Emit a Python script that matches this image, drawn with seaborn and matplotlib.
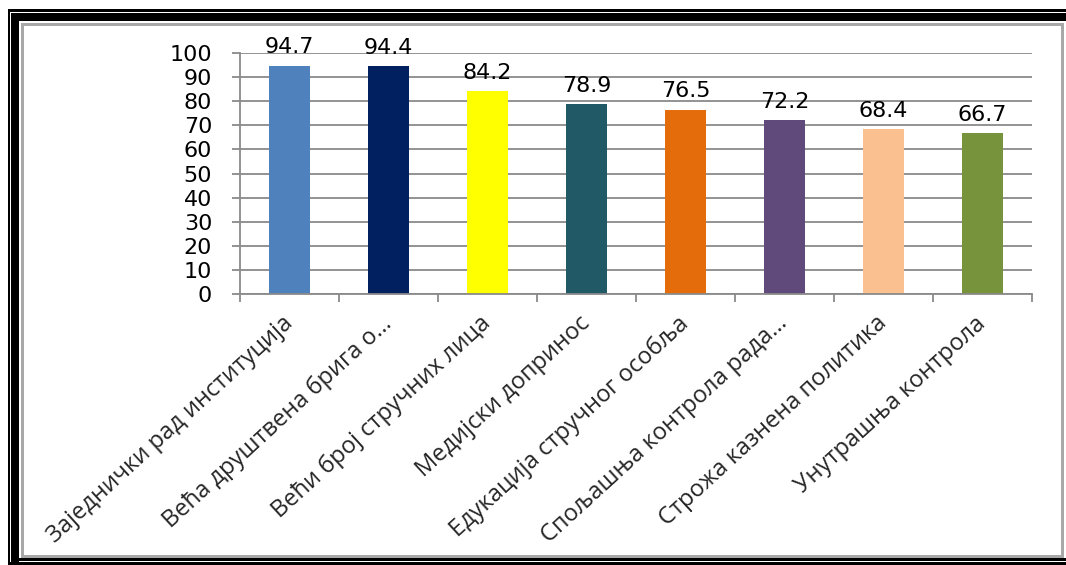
import matplotlib
matplotlib.use("Agg")
import matplotlib.pyplot as plt
import seaborn as sns
import pandas as pd
from matplotlib.patches import Rectangle
from matplotlib.ticker import FixedLocator

categories = [
    "Заједнички рад институција",
    "Већа друштвена брига о…",
    "Већи број стручних лица",
    "Медијски допринос",
    "Едукација стручног особља",
    "Спољашња контрола рада…",
    "Строжа казнена политика",
    "Унутрашња контрола",
]
values = [94.7, 94.4, 84.2, 78.9, 76.5, 72.2, 68.4, 66.7]
colors = ["#4F81BD", "#002060", "#FFFF00", "#215967", "#E46C0A", "#604A7B", "#FAC090", "#77933C"]
y_ticks = [0, 10, 20, 30, 40, 50, 60, 70, 80, 90, 100]

sns.set_style("white")
plt.rcParams["font.family"] = ["DejaVu Sans"]

W, H = 1066, 565
fig = plt.figure(figsize=(W / 100, H / 100), dpi=100)
fig.patch.set_facecolor("white")

def band(x0, y0, x1, y1, color):
    fig.add_artist(Rectangle((x0 / W, 1 - y1 / H), (x1 - x0) / W, (y1 - y0) / H,
                             transform=fig.transFigure, facecolor=color,
                             edgecolor="none", zorder=-5))

# outer decorative frame
band(7.5, 9.5, W, 11.5, "black")      # thin top
band(7.5, 9.5, 9.5, H, "black")       # thin left
band(11, 13, W, 21, "black")          # thick top
band(11, 13, 19, H, "black")          # thick left
band(11, 558, W, 560.5, "black")      # bottom inner black
band(7.5, 562, W, H, "black")         # bottom outer black
band(21, 23, 1063.5, 26, "#a8a8a8")   # gray top
band(21, 23, 24, 558, "#a8a8a8")      # gray left
band(21, 555, 1063.5, 558, "#a8a8a8") # gray bottom
band(1060.5, 23, 1063.5, 558, "#a8a8a8")  # gray right

ax = fig.add_axes([240 / W, 1 - 294 / H, (1032 - 240) / W, (294 - 53) / H])
df = pd.DataFrame({"cat": categories, "val": values})
sns.barplot(data=df, x="cat", y="val", hue="cat", palette=colors, legend=False,
            width=0.41, ax=ax, saturation=1, edgecolor="none")

ax.set_xlim(-0.5, len(categories) - 0.5)
ax.set_ylim(0, 100)
ax.set_yticks(y_ticks)
ax.set_xlabel("")
ax.set_ylabel("")

gc = "#8a8a8a"
ax.yaxis.grid(True, color=gc, linewidth=1.3)
ax.set_axisbelow(True)
for s in ["top", "right"]:
    ax.spines[s].set_visible(False)
for s in ["left", "bottom"]:
    ax.spines[s].set_color(gc)
    ax.spines[s].set_linewidth(1.3)

ax.tick_params(axis="y", length=6, width=1.3, color=gc, pad=14, labelsize=16, labelcolor="black", direction="out", left=True)
ax.xaxis.set_minor_locator(FixedLocator([i - 0.5 for i in range(len(categories) + 1)]))
ax.tick_params(axis="x", which="minor", length=6, width=1.3, color=gc, direction="out", bottom=True)
ax.tick_params(axis="x", which="major", length=0, pad=19)
ax.set_xticks(range(len(categories)))
ax.set_xticklabels(categories, rotation=42.5, ha="right", va="center",
                   rotation_mode="anchor", fontsize=17, family="Open Sans")

for cont in ax.containers:
    ax.bar_label(cont, fmt="%.1f", padding=6, fontsize=16, color="black")

fig.savefig("out.png", dpi=100, facecolor="white")
